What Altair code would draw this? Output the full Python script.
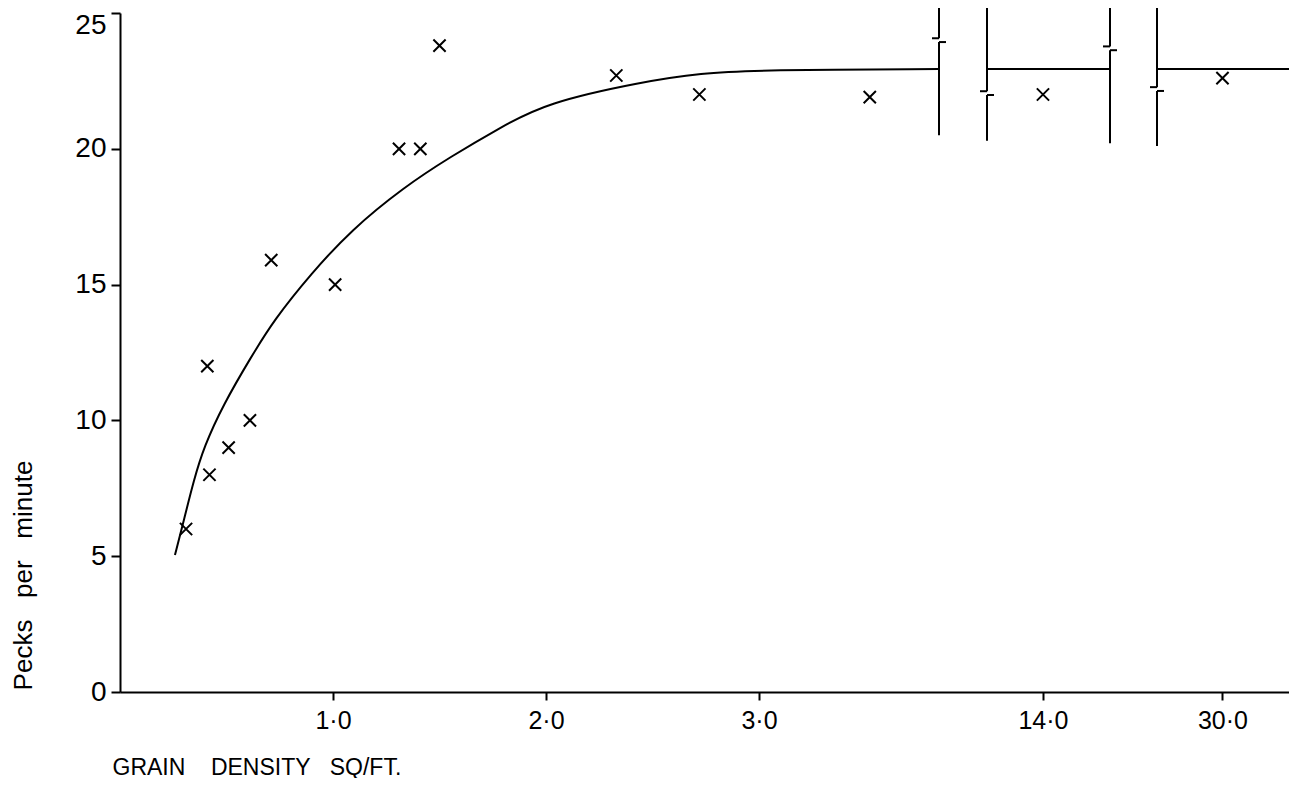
import altair as alt
import pandas as pd

# Observed pecking rates (grain density per sq ft, pecks per minute)
pt_x = [0.31, 0.41, 0.42, 0.51, 0.61, 0.71, 1.01, 1.31, 1.41, 1.50, 2.33, 2.72, 3.52, 14.0, 30.0]
pt_y = [6.0, 12.0, 8.0, 9.0, 10.0, 15.9, 15.0, 20.0, 20.0, 23.8, 22.7, 22.0, 21.9, 22.0, 22.6]

# Hand-drawn fitted curve, split into pieces by the axis breaks
curve_x = [0.258, 0.30, 0.347, 0.394, 0.484, 0.615, 0.723, 0.897, 1.085, 1.333, 1.55, 1.789, 2.0,
           2.446, 2.728, 3.01, 3.845, 13.737, 14.315, 29.69, 30.34]
curve_y = [5.04, 6.33, 7.81, 9.02, 10.57, 12.33, 13.70, 15.4, 17.01, 18.59, 19.7, 20.80, 21.69,
           22.46, 22.79, 22.90, 22.94, 22.94, 22.94, 22.94, 22.94]
curve_seg = [1] * 17 + [2, 2] + [3, 3]

# Axis breaks (vertical break lines)
brk_x = [3.845, 13.737, 14.315, 29.69]
brk_top = [25.3, 25.3, 25.3, 25.3]
brk_bottom = [20.5, 20.3, 20.2, 20.1]
brk_mark = [24.0, 22.05, 23.7, 22.2]

x_ticks = [1, 2, 3, 14, 30]
y_ticks = [0, 5, 10, 15, 20, 25]

# piecewise x scale for the broken axis
x_domain = [0, 3.845, 13.737, 14.315, 29.69, 30.315]
x_range = [0, 819, 867, 990, 1037, 1169]

pts = pd.DataFrame({"x": pt_x, "y": pt_y})
curve = pd.DataFrame({"x": curve_x, "y": curve_y, "seg": curve_seg})
brk = pd.DataFrame({"x": brk_x, "top": brk_top, "bottom": brk_bottom, "mark": brk_mark})
brk["up"] = brk["mark"] + 0.07
brk["lo"] = brk["mark"] - 0.07

FONT = "Liberation Sans"
x_scale = alt.Scale(domain=x_domain, range=x_range, zero=False, nice=False)
y_scale = alt.Scale(domain=[0, 25], nice=False, zero=True)

x_axis = alt.Axis(
    values=x_ticks,
    labelExpr="replace(format(datum.value, '.1f'), '.', '·')",
    title="GRAIN\u00a0\u00a0\u00a0 DENSITY\u00a0\u00a0 SQ/FT.",
    titleAnchor="start", titleAlign="left", titleX=-8, titleY=82,
    titleBaseline="alphabetic", titleFontSize=23, titleFontWeight="normal",
    titleFont=FONT, titleColor="black",
    labelFontSize=25, labelFont=FONT, labelColor="black", labelPadding=8,
    tickSize=8, tickWidth=2, tickColor="black",
    domainColor="black", domainWidth=2, grid=False,
)
y_axis = alt.Axis(
    values=y_ticks, format="d",
    title="Pecks\u00a0\u00a0 per\u00a0\u00a0 minute",
    titleAngle=270, titleX=-89, titleY=562, titleAlign="center",
    titleBaseline="alphabetic", titleFontSize=26, titleFontWeight="normal",
    titleFont=FONT, titleColor="black",
    labelFontSize=28, labelFont=FONT, labelColor="black", labelPadding=5,
    labelBaseline={"expr": "datum.value == 25 ? 'top' : 'middle'"},
    labelOffset={"expr": "datum.value == 25 ? -2 : 0"},
    tickSize=9, tickWidth=2, tickColor="black",
    domainColor="black", domainWidth=2, grid=False,
)


def X(field):
    return alt.X(field, type="quantitative", scale=x_scale, axis=x_axis)


def Y(field):
    return alt.Y(field, type="quantitative", scale=y_scale, axis=y_axis)


line = alt.Chart(curve).mark_line(color="black", strokeWidth=2, interpolate="basis").encode(
    x=X("x"), y=Y("y"), detail="seg:N",
)

cross = "M-1,-1L1,1M-1,1L1,-1"
points = alt.Chart(pts).mark_point(
    shape=cross, filled=False, color="black", opacity=1, strokeWidth=2, size=150
).encode(x=X("x"), y=Y("y"))

upper = alt.Chart(brk).mark_rule(color="black", strokeWidth=2).encode(
    x=X("x"), y=Y("top"), y2="up:Q",
)
lower = alt.Chart(brk).mark_rule(color="black", strokeWidth=2).encode(
    x=X("x"), y=Y("lo"), y2="bottom:Q",
)
hook_up = alt.Chart(brk).mark_rule(color="black", strokeWidth=2, x2Offset=-7).encode(
    x=X("x"), x2="x:Q", y=Y("up"),
)
hook_lo = alt.Chart(brk).mark_rule(color="black", strokeWidth=2, x2Offset=7).encode(
    x=X("x"), x2="x:Q", y=Y("lo"),
)

chart = alt.layer(line, points, upper, lower, hook_up, hook_lo).properties(
    width=1169, height=679,
    padding={"left": 112, "top": 5, "right": 0, "bottom": 86},
    autosize=alt.AutoSizeParams(type="none"),
    background="white",
).configure(
    font=FONT,
    view=alt.ViewConfig(strokeWidth=0, stroke="transparent"),
)

chart.save("out.html", embed_options={"renderer": "svg", "actions": False})
